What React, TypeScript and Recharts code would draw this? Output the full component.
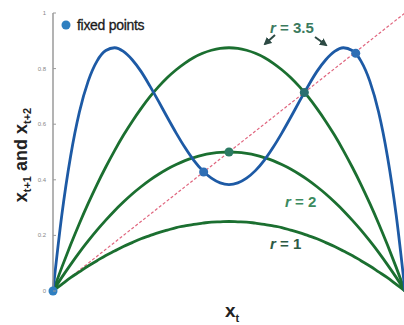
import React from 'react'
import { ComposedChart, Line, Scatter, XAxis, YAxis, Cell } from 'recharts'

// x_t grid
const xs = [
  0, 0.025, 0.05, 0.075, 0.1, 0.125, 0.15, 0.175, 0.2, 0.225, 0.25, 0.275, 0.3, 0.325, 0.35, 0.375, 0.4,
  0.425, 0.45, 0.475, 0.5, 0.525, 0.55, 0.575, 0.6, 0.625, 0.65, 0.675, 0.7, 0.725, 0.75, 0.775, 0.8,
  0.825, 0.85, 0.875, 0.9, 0.925, 0.95, 0.975, 1,
]

// x_{t+1}, r = 1
const r1 = [
  0, 0.024, 0.048, 0.069, 0.09, 0.109, 0.128, 0.144, 0.16, 0.174, 0.188, 0.199, 0.21, 0.219, 0.228, 0.234, 0.24,
  0.244, 0.248, 0.249, 0.25, 0.249, 0.248, 0.244, 0.24, 0.234, 0.228, 0.219, 0.21, 0.199, 0.188, 0.174, 0.16,
  0.144, 0.128, 0.109, 0.09, 0.069, 0.048, 0.024, 0,
]

// x_{t+1}, r = 2
const r2 = [
  0, 0.049, 0.095, 0.139, 0.18, 0.219, 0.255, 0.289, 0.32, 0.349, 0.375, 0.399, 0.42, 0.439, 0.455, 0.469, 0.48,
  0.489, 0.495, 0.499, 0.5, 0.499, 0.495, 0.489, 0.48, 0.469, 0.455, 0.439, 0.42, 0.399, 0.375, 0.349, 0.32,
  0.289, 0.255, 0.219, 0.18, 0.139, 0.095, 0.049, 0,
]

// x_{t+1}, r = 3.5
const r35 = [
  0, 0.085, 0.166, 0.243, 0.315, 0.383, 0.446, 0.505, 0.56, 0.61, 0.656, 0.698, 0.735, 0.768, 0.796, 0.82, 0.84,
  0.855, 0.866, 0.873, 0.875, 0.873, 0.866, 0.855, 0.84, 0.82, 0.796, 0.768, 0.735, 0.698, 0.656, 0.61, 0.56,
  0.505, 0.446, 0.383, 0.315, 0.243, 0.166, 0.085, 0,
]

// x_{t+2}, r = 3.5
const r35two = [
  0, 0.273, 0.485, 0.644, 0.755, 0.827, 0.865, 0.875, 0.862, 0.832, 0.79, 0.738, 0.682, 0.624, 0.568, 0.516, 0.47,
  0.433, 0.406, 0.389, 0.383, 0.389, 0.406, 0.433, 0.47, 0.516, 0.568, 0.624, 0.682, 0.738, 0.79, 0.832, 0.862,
  0.875, 0.865, 0.827, 0.755, 0.644, 0.485, 0.273, 0,
]

const fixedX = [0, 0.5, 0.714, 0.428, 0.86]
const fixedY = [0, 0.5, 0.714, 0.428, 0.855]
const fixedColors = ['#2f7fc1', '#2b7a62', '#2b7070', '#2f6fb5', '#2f6fb5']

const xTicks = [0, 0.2, 0.4, 0.6, 0.8]
const xTicksTop = [0, 0.2, 0.4, 0.6, 0.8, 1]
const yTicks = [0, 0.2, 0.4, 0.6, 0.8, 1]

const data = xs.map((x, i) => ({ x, r1: r1[i], r2: r2[i], r35: r35[i], two: r35two[i] }))
const fixed = fixedX.map((x, i) => ({ x, y: fixedY[i] }))
const diag = [{ x: 0, y: 0 }, { x: 1, y: 1 }]

const BLUE = '#1d5aa5'
const GREEN = '#1b6f30'
const AXIS = '#9a9a9a'

const fmt = (v: number) => (v === 0 ? '0' : v === 1 ? '1' : v.toFixed(1))

const BottomTick = (props: any) => {
  const { x, y, payload } = props
  return (
    <g>
      <line x1={x} x2={x} y1={y} y2={y - 3} stroke={AXIS} />
      <text x={x} y={y + 11} textAnchor="middle" fontSize={6} fill="#888" fontFamily="Liberation Sans">
        {fmt(payload.value)}
      </text>
    </g>
  )
}

const TopTick = (props: any) => {
  const { x, y } = props
  return <line x1={x} x2={x} y1={y} y2={y + 3} stroke={AXIS} />
}

const LeftTick = (props: any) => {
  const { x, y, payload } = props
  return (
    <g>
      <line x1={x} x2={x + 3} y1={y} y2={y} stroke={AXIS} />
      <text x={x - 7} y={y + 2} textAnchor="end" fontSize={6} fill="#888" fontFamily="Liberation Sans">
        {fmt(payload.value)}
      </text>
    </g>
  )
}

export default function App() {
  return (
    <div style={{ position: 'absolute', left: 0, top: 0, width: 404, height: 325, overflow: 'hidden', background: '#fff' }}>
      <ComposedChart width={406} height={325} data={data} margin={{ top: 13, right: 1, bottom: 34, left: 0 }}>
        <XAxis
          dataKey="x"
          type="number"
          domain={[0, 1]}
          ticks={xTicks}
          height={0}
          tickSize={0}
          tickMargin={0}
          tickLine={false}
          tick={<BottomTick />}
          axisLine={{ stroke: AXIS, strokeWidth: 1.5 }}
        />
        <XAxis
          xAxisId="top"
          orientation="top"
          dataKey="x"
          type="number"
          domain={[0, 1]}
          ticks={xTicksTop}
          height={0}
          tickSize={0}
          tickMargin={0}
          tickLine={false}
          tick={<TopTick />}
          axisLine={{ stroke: AXIS, strokeWidth: 1.5 }}
        />
        <YAxis
          type="number"
          domain={[0, 1]}
          ticks={yTicks}
          width={53}
          tickSize={0}
          tickMargin={0}
          tickLine={false}
          tick={<LeftTick />}
          axisLine={{ stroke: AXIS, strokeWidth: 1.5 }}
        />
        <Line data={diag} dataKey="y" stroke="#e0667f" strokeWidth={1.2} strokeDasharray="3 2" dot={false} isAnimationActive={false} />
        <Line dataKey="r1" type="monotone" stroke={GREEN} strokeWidth={2.8} dot={false} isAnimationActive={false} />
        <Line dataKey="r2" type="monotone" stroke={GREEN} strokeWidth={2.8} dot={false} isAnimationActive={false} />
        <Line dataKey="r35" type="monotone" stroke={GREEN} strokeWidth={2.8} dot={false} isAnimationActive={false} />
        <Line dataKey="two" type="monotone" stroke={BLUE} strokeWidth={2.8} dot={false} isAnimationActive={false} />
        <Scatter data={fixed} dataKey="y" shape="circle" isAnimationActive={false}>
          {fixed.map((_, i) => (
            <Cell key={i} fill={fixedColors[i]} />
          ))}
        </Scatter>
      </ComposedChart>
      <svg width={404} height={325} style={{ position: 'absolute', left: 0, top: 0, pointerEvents: 'none' }} fontFamily="Liberation Sans">
        <defs>
          <marker id="ah" markerWidth="4" markerHeight="4" refX="3" refY="2" orient="auto">
            <path d="M0,0 L4,2 L0,4 z" fill="#2d4a44" />
          </marker>
        </defs>
        {/* legend */}
        <circle cx={66} cy={25} r={4.5} fill="#2f80c0" />
        <text x={77} y={30} fontSize={14} fill="#1a1a1a" letterSpacing={-0.3} stroke="#1a1a1a" strokeWidth={0.3}>fixed points</text>
        {/* axis labels */}
        <text transform="translate(27,155) rotate(-90)" textAnchor="middle" fontSize={18} fontWeight="bold" fill="#222">
          x<tspan fontSize={11} dy={4}>t+1</tspan>
          <tspan dy={-4}> and x</tspan>
          <tspan fontSize={11} dy={4}>t+2</tspan>
        </text>
        <text x={225} y={317} fontSize={19} fontWeight="bold" fill="#222">
          x<tspan fontSize={11} dy={5}>t</tspan>
        </text>
        {/* annotations */}
        <text x={270} y={33} fontSize={15} fontWeight="bold" fill="#3b7a5e">
          <tspan fontStyle="italic">r</tspan> = 3.5
        </text>
        <line x1={275} y1={35} x2={265} y2={44} stroke="#2d4a44" strokeWidth={2} markerEnd="url(#ah)" />
        <line x1={315} y1={37} x2={326} y2={45} stroke="#2d4a44" strokeWidth={2} markerEnd="url(#ah)" />
        <text x={285} y={207} fontSize={15} fontWeight="bold" fill="#3b8a5e">
          <tspan fontStyle="italic">r</tspan> = 2
        </text>
        <text x={270} y={249} fontSize={15} fontWeight="bold" fill="#2c5a44">
          <tspan fontStyle="italic">r</tspan> = 1
        </text>
      </svg>
    </div>
  )
}
